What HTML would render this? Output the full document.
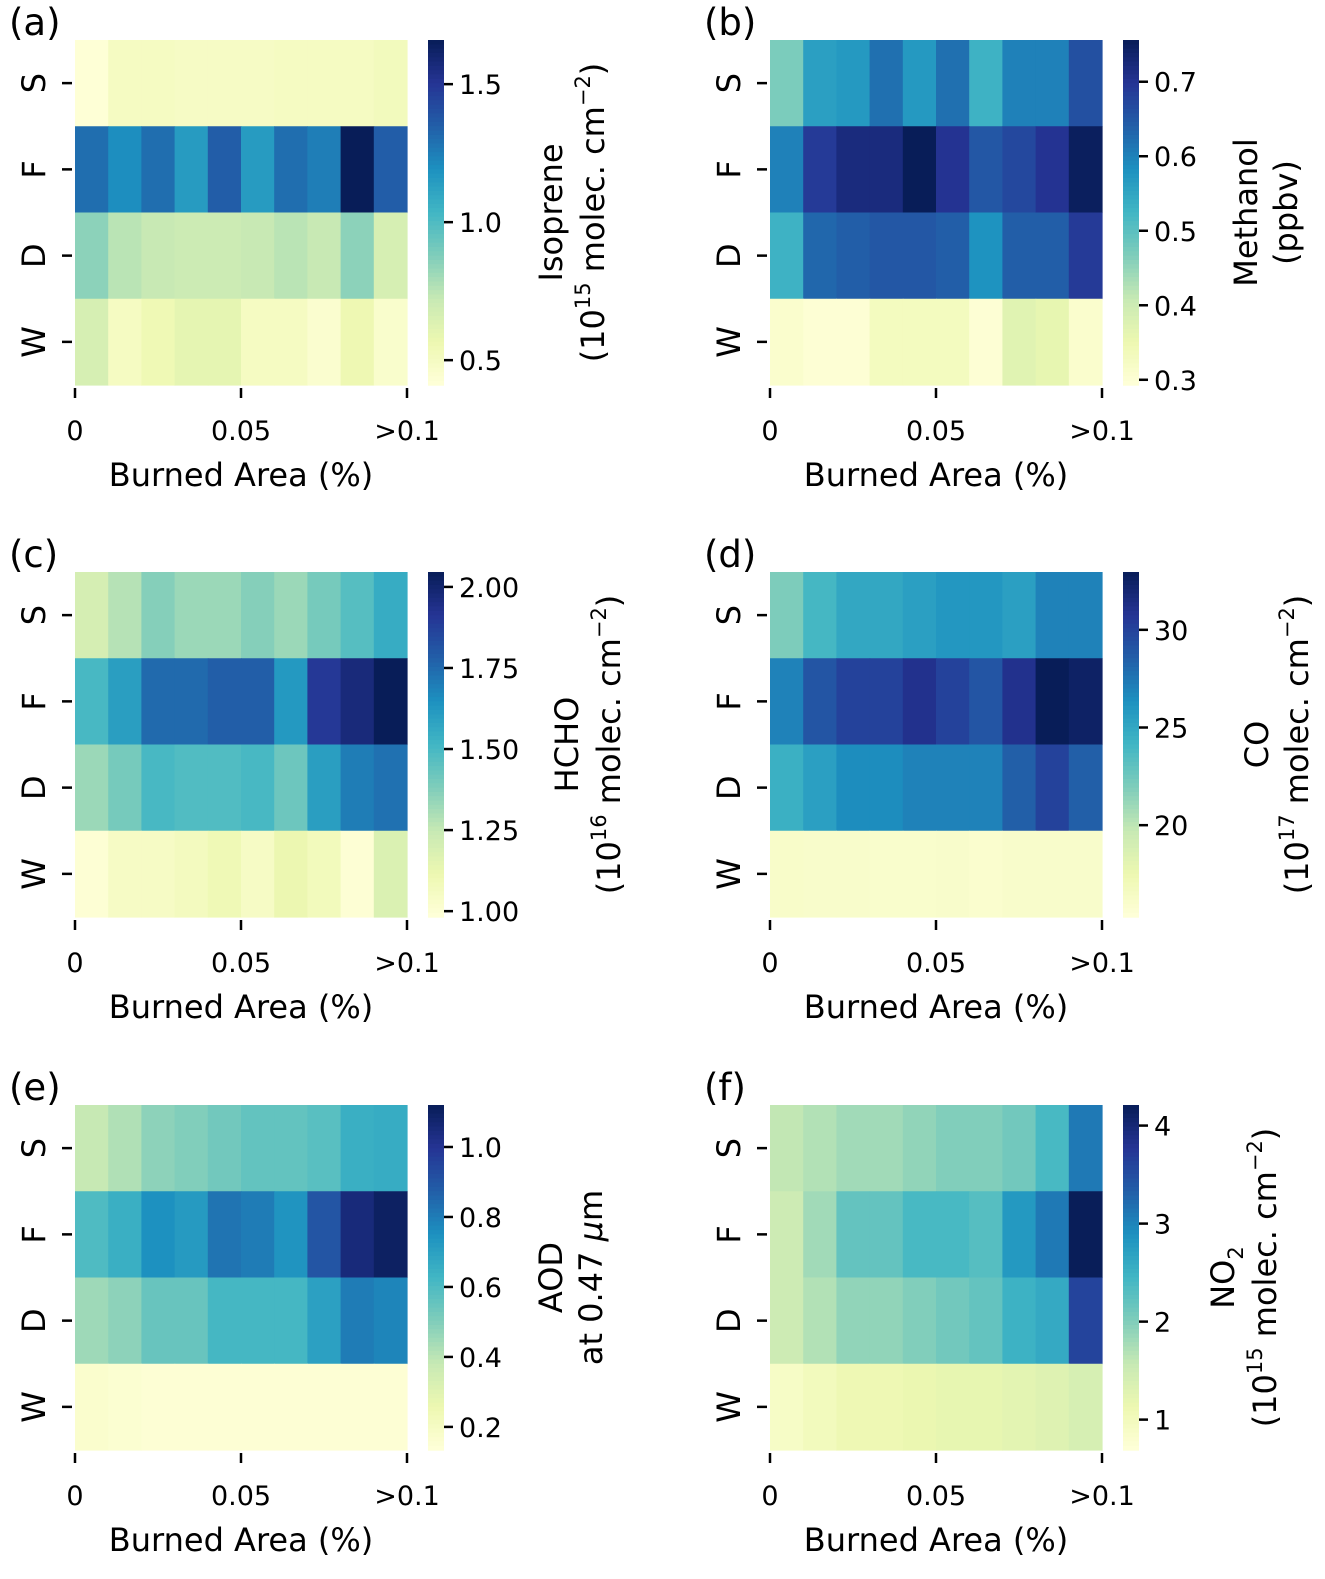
<!DOCTYPE html>
<html><head><meta charset="utf-8"><style>
body{margin:0;background:#fff}
svg{display:block;font-family:"DejaVu Sans","Liberation Sans",sans-serif}
</style></head><body>
<svg id="fig" width="1325" height="1579" viewBox="0 0 1325 1579" xmlns="http://www.w3.org/2000/svg"></svg>
<script>
const rowsLabels = ["S","F","D","W"];
const xTickLabels = ["0","0.05",">0.1"];
const isopreneVals = [
 [0.42,0.5,0.5,0.49,0.49,0.49,0.5,0.5,0.5,0.52],
 [1.3,1.2,1.3,1.15,1.35,1.15,1.3,1.25,1.66,1.35],
 [0.85,0.75,0.72,0.7,0.7,0.72,0.75,0.72,0.85,0.66],
 [0.66,0.5,0.55,0.6,0.6,0.5,0.5,0.45,0.56,0.46]];
const methanolVals = [
 [0.47,0.56,0.57,0.62,0.57,0.62,0.53,0.6,0.6,0.66],
 [0.6,0.69,0.72,0.72,0.76,0.7,0.65,0.67,0.7,0.75],
 [0.53,0.63,0.64,0.65,0.65,0.64,0.58,0.64,0.64,0.69],
 [0.31,0.30,0.30,0.33,0.33,0.33,0.30,0.37,0.36,0.31]];
const hchoVals = [
 [1.2,1.28,1.37,1.33,1.33,1.37,1.33,1.4,1.47,1.55],
 [1.5,1.6,1.75,1.75,1.78,1.78,1.62,1.9,1.97,2.05],
 [1.33,1.4,1.5,1.48,1.48,1.5,1.42,1.6,1.7,1.73],
 [1.0,1.05,1.05,1.07,1.1,1.05,1.12,1.08,1.0,1.18]];
const coVals = [
 [22,24,25,25,25.5,26,26,25.5,27,27],
 [27,29,30,30,31,30,29,31,33,32.5],
 [24.5,25.5,26.5,26.5,27,27,27,28.5,30,28.5],
 [16.2,16.1,16.1,16.0,16.0,16.1,15.9,16.1,16.1,16.1]];
const aodVals = [
 [0.38,0.42,0.48,0.5,0.53,0.56,0.56,0.58,0.65,0.66],
 [0.6,0.65,0.75,0.72,0.82,0.8,0.74,0.9,1.05,1.1],
 [0.45,0.48,0.55,0.55,0.62,0.62,0.62,0.7,0.8,0.78],
 [0.17,0.16,0.15,0.15,0.15,0.15,0.15,0.15,0.15,0.15]];
const no2Vals = [
 [1.6,1.7,1.8,1.8,1.9,2.0,2.0,2.1,2.4,3.1],
 [1.5,1.8,2.2,2.2,2.4,2.4,2.3,2.8,3.1,4.2],
 [1.5,1.7,1.9,1.9,2.0,2.1,2.2,2.5,2.6,3.6],
 [0.9,1.0,1.1,1.1,1.15,1.2,1.2,1.25,1.3,1.4]];
const isoTicks=[0.5,1.0,1.5], metTicks=[0.3,0.4,0.5,0.6,0.7], hchoTicks=[1.0,1.25,1.5,1.75,2.0],
 coTicks=[20,25,30], aodTicks=[0.2,0.4,0.6,0.8,1.0], no2Ticks=[1,2,3,4];

const stops=["#ffffd9","#edf8b1","#c7e9b4","#7fcdbb","#41b6c4","#1d91c0","#225ea8","#253494","#081d58"].map(h=>[1,3,5].map(i=>parseInt(h.substr(i,2),16)));
function cmap(t){t=Math.max(0,Math.min(1,t));const p=t*(stops.length-1),i=Math.min(Math.floor(p),stops.length-2),f=p-i;
 const c=stops[i].map((v,k)=>Math.round(v+(stops[i+1][k]-v)*f));return `rgb(${c.join(',')})`;}
const NS="http://www.w3.org/2000/svg", svg=document.getElementById('fig');
function mk(tag,attrs,parent,text){const e=document.createElementNS(NS,tag);for(const k in attrs)e.setAttribute(k,attrs[k]);if(text!==undefined)e.innerHTML=text;(parent||svg).appendChild(e);return e;}

const sup=s=>`<tspan dy="-14" font-size="21">${s}</tspan><tspan dy="14">`;
const panels=[
 {id:'a',vals:isopreneVals,ticks:isoTicks,vmin:0.41,vmax:1.66,x:75,y:40,fmt:v=>v.toFixed(1),l1:'Isoprene',l2:'(10'+sup('15')+' molec. cm</tspan>'+sup('−2')+')</tspan>',lx:562,lx2:604},
 {id:'b',vals:methanolVals,ticks:metTicks,vmin:0.293,vmax:0.756,x:770,y:40,fmt:v=>v.toFixed(1),l1:'Methanol',l2:'(ppbv)',lx:1257,lx2:1297},
 {id:'c',vals:hchoVals,ticks:hchoTicks,vmin:0.982,vmax:2.046,x:75,y:572,fmt:v=>v.toFixed(2),l1:'HCHO',l2:'(10'+sup('16')+' molec. cm</tspan>'+sup('−2')+')</tspan>',lx:578,lx2:620},
 {id:'d',vals:coVals,ticks:coTicks,vmin:15.3,vmax:32.96,x:770,y:572,fmt:v=>String(v),l1:'CO',l2:'(10'+sup('17')+' molec. cm</tspan>'+sup('−2')+')</tspan>',lx:1268,lx2:1308},
 {id:'e',vals:aodVals,ticks:aodTicks,vmin:0.134,vmax:1.12,x:75,y:1105,fmt:v=>v.toFixed(1),l1:'AOD',l2:'at 0.47 <tspan font-style="italic">μ</tspan>m',lx:562,lx2:602},
 {id:'f',vals:no2Vals,ticks:no2Ticks,vmin:0.69,vmax:4.21,x:770,y:1105,fmt:v=>String(v),l1:'NO<tspan dy="9" font-size="21">2</tspan>',l2:'(10'+sup('15')+' molec. cm</tspan>'+sup('−2')+')</tspan>',lx:1234,lx2:1276}
];
const W=332,H=345,cols=10,rowsN=4;
panels.forEach(p=>{
 const g=mk('g',{});
 
 
 const cw=W/cols, ch=H/rowsN;
 const xs=c=>p.x+c*cw, ys=r=>p.y+r*ch;
 const lab=mk('text',{x:p.x-66,y:p.y-5,'font-size':37},g,'('+p.id+')');
 
 
 p.vals.forEach((row,r)=>row.forEach((v,c)=>{
  const rc=mk('rect',{x:xs(c),y:ys(r),width:cw+0.6,height:ch+0.6,fill:cmap((v-p.vmin)/(p.vmax-p.vmin))},g);
  
  
 }));
 rowsLabels.forEach((s,r)=>{
  const cy=ys(r)+ch/2;
  mk('line',{x1:p.x-13,x2:p.x-3,y1:cy,y2:cy,stroke:'#000','stroke-width':2.5},g);
  const t=mk('text',{x:0,y:0,'font-size':32,'text-anchor':'middle',transform:`translate(${p.x-30},${cy}) rotate(-90)`},g,s);
  
  
 });
 xTickLabels.forEach((s,i)=>{
  const tx=p.x+i*W/2;
  mk('line',{x1:tx,x2:tx,y1:p.y+H+3,y2:p.y+H+13,stroke:'#000','stroke-width':2.5},g);
  const t=mk('text',{x:tx,y:p.y+H+55,'font-size':27,'text-anchor':'middle'},g,s.replace('>','&gt;'));
  
  
 });
 const xl=mk('text',{x:p.x+W/2,y:p.y+H+101,'font-size':32,'text-anchor':'middle'},g,'Burned Area (%)');
 
 
 const cbx=p.x+353,cbw=16,N=80;
 for(let i=0;i<N;i++){
  const r=mk('rect',{x:cbx,y:p.y+i*H/N,width:cbw,height:H/N+0.7,fill:cmap(1-(i+0.5)/N)},g);
  
  
 }
 p.ticks.forEach(v=>{
  const ty=p.y+H*(p.vmax-v)/(p.vmax-p.vmin);
  mk('line',{x1:cbx+cbw,x2:cbx+cbw+9,y1:ty,y2:ty,stroke:'#000','stroke-width':2.5},g);
  const t=mk('text',{x:cbx+cbw+15,y:ty+10,'font-size':27},g,p.fmt(v));
  
  
 });
 const cy=p.y+H/2;
 const t1=mk('text',{x:0,y:0,'font-size':32,'text-anchor':'middle',transform:`translate(${p.lx},${cy}) rotate(-90)`},g,p.l1);
 
 
 const t2=mk('text',{x:0,y:0,'font-size':32,'text-anchor':'middle',transform:`translate(${p.lx2},${cy}) rotate(-90)`},g,p.l2);
 
 
});
</script>
</body></html>
